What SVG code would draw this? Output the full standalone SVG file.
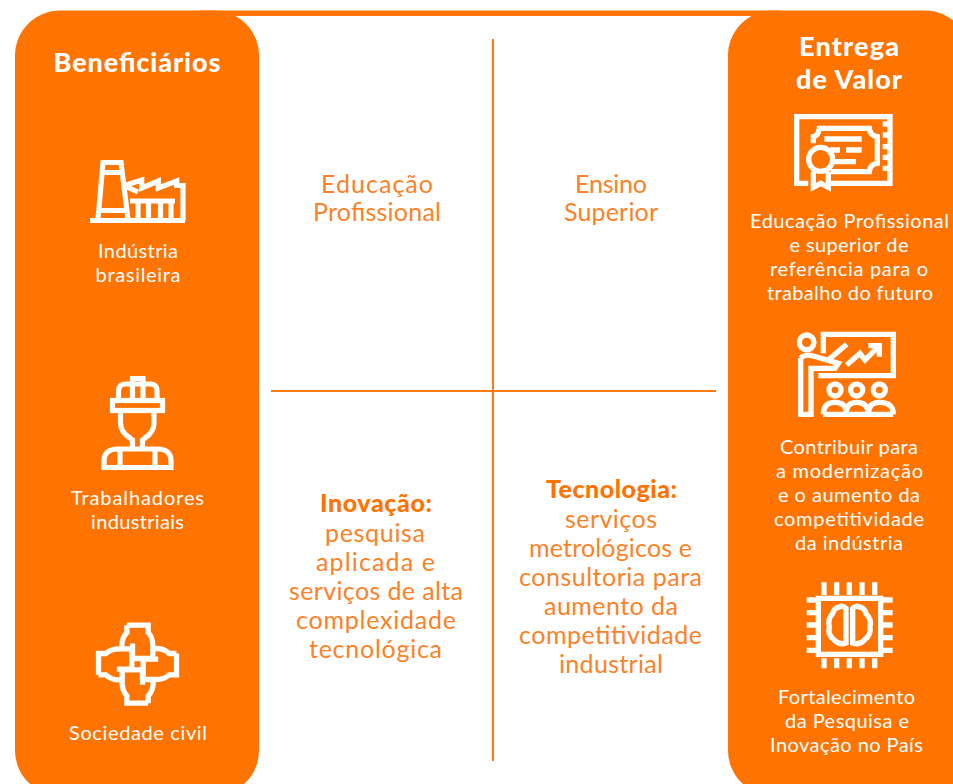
<svg xmlns="http://www.w3.org/2000/svg" width="953" height="784" viewBox="0 0 953 784">
<style>
text{font-family:"Lato","Liberation Sans",sans-serif;text-anchor:middle}
.w{fill:#fff;font-size:20px}
.h{fill:#fff;font-size:27px;font-weight:900}
.o{fill:#fb8228;font-size:25px}
.b{fill:#ff7300;font-size:25px;font-weight:900}
.i{fill:none;stroke:#fff;stroke-width:5.200;stroke-linejoin:miter}
.z{fill:none;stroke:#fff;stroke-width:16;stroke-linejoin:miter}
.l{stroke:#ff7a12;stroke-width:2;fill:none}
</style>
<defs>
<g id="pipe">
<path d="M-32,-117H32V-95Q46,-80 46,-55V-17H-15V-62M-32,-117V-95Q-47,-80 -47,-55V-46"/>
</g>
</defs>
<rect id="top-bar" x="200" y="10.500" width="580" height="5.500" fill="#ff7300"/>
<g id="connectors">
<line class="l" x1="493" y1="39" x2="493" y2="761"/>
<line class="l" x1="271" y1="391" x2="716" y2="391"/>
</g>
<g id="beneficiarios">
<rect x="15" y="10.500" width="244" height="785" rx="45" fill="#ff7300"/>
<text class="h" x="137" y="72" textLength="167">Beneficiários</text>
</g>
<g id="entrega">
<rect x="728" y="10.500" width="242" height="785" rx="45" fill="#ff7300"/>
<text class="h" x="849" y="56" textLength="100">Entrega</text>
<text class="h" x="849" y="89" textLength="106">de Valor</text>
</g>
<g id="industria">
<g class="i">
<path d="M90,220.500H185"/>
<path d="M98,219L103,162.500H121L128,219M101,172.500H123M99,210.500H127"/>
<path d="M126,185L141.700,180V188L158.300,181V188L176.700,181V185.500H183V221M127,187L138,192"/>
<path d="M130,201H175M138,200V220M148.500,200V220M160.500,200V220M171,200V220"/>
</g>
<text class="w" x="138" y="258" textLength="80">Indústria</text>
<text class="w" x="138" y="282" textLength="85">brasileira</text>
</g>
<g id="trabalhadores">
<g class="i">
<rect x="112.500" y="400.500" width="50" height="10"/>
<path d="M118.500,398V391Q118.500,384 126,384H150Q157,384 157,391V398"/>
<path d="M132.500,398V378.500H143V398"/>
<path d="M120.500,413V423Q120.500,432 130,438L132.500,440V449M154,413V423Q154,432 145,438L142.500,440V449"/>
<path d="M104,467.500V461Q104,449 118,449H157Q171,449 171,461V467.500Z"/>
<path d="M120,449V467M155,449V467"/>
</g>
<text class="w" x="137.500" y="505" textLength="133">Trabalhadores</text>
<text class="w" x="137.500" y="529" textLength="93">industriais</text>
</g>
<g id="sociedade">
<g class="z" transform="translate(137.500,664.200) scale(0.3333)">
<use href="#pipe"/>
<use href="#pipe" transform="rotate(90)"/>
<use href="#pipe" transform="rotate(180)"/>
<use href="#pipe" transform="rotate(270)"/>
</g>
<text class="w" x="138" y="740" textLength="138">Sociedade civil</text>
</g>
<g id="educacao-profissional">
<text class="o" x="377" y="193" textLength="112">Educação</text>
<text class="o" x="377" y="221" textLength="128">Profissional</text>
</g>
<g id="ensino-superior">
<text class="o" x="611" y="193" textLength="72">Ensino</text>
<text class="o" x="611" y="221" textLength="94">Superior</text>
</g>
<g id="inovacao">
<text class="b" x="376" y="512" textLength="112">Inovação:</text>
<text class="o" x="375" y="542" textLength="100">pesquisa</text>
<text class="o" x="375.500" y="571" textLength="119">aplicada e</text>
<text class="o" x="376" y="600" textLength="174">serviços de alta</text>
<text class="o" x="376" y="629" textLength="160">complexidade</text>
<text class="o" x="375.500" y="658" textLength="133">tecnológica</text>
</g>
<g id="tecnologia">
<text class="b" x="611.500" y="498" textLength="131">Tecnologia:</text>
<text class="o" x="611" y="528" textLength="92">serviços</text>
<text class="o" x="610.500" y="557" textLength="163">metrológicos e</text>
<text class="o" x="610.500" y="586" textLength="183">consultoria para</text>
<text class="o" x="611" y="615" textLength="134">aumento da</text>
<text class="o" x="610.500" y="644" textLength="183">competitividade</text>
<text class="o" x="611" y="673" textLength="104">industrial</text>
</g>
<g id="entrega-educacao">
<g class="z" transform="translate(780,100) scale(0.3333)">
<path d="M85,250H50V50H330V250H150"/>
<path d="M308,72H325M308,105H325M308,140H325M308,172H325M308,205H325"/>
<path d="M100,130V110Q115,108 118,85H268Q270,108 292,110V190Q270,192 268,215H152"/>
<path d="M133,117H245M198,150H245M150,150H180M160,185H228"/>
<circle cx="122" cy="178" r="36"/>
<path d="M100,215V262L122,250L145,262V215"/>
</g>
<text class="w" x="849.500" y="228" textLength="199">Educação Profissional</text>
<text class="w" x="849" y="252" textLength="119">e superior de</text>
<text class="w" x="849" y="276" textLength="158">referência para o</text>
<text class="w" x="850" y="300" textLength="166">trabalho do futuro</text>
</g>
<g id="entrega-contribuir">
<g class="z" transform="translate(785,325) scale(0.3333)">
<path d="M115,85V28H325V152H100"/>
<circle cx="65" cy="52" r="22"/>
<path d="M47,100V268H78V130H150L160,115L85,93Q60,85 47,100"/>
<path d="M130,105L185,58"/>
<path d="M185,120L225,85L240,105L280,65M250,62H283V95"/>
<circle cx="150" cy="195" r="18"/>
<circle cx="215" cy="195" r="18"/>
<circle cx="283" cy="195" r="18"/>
<path d="M115,268H325M115,268Q115,232 150,232Q185,232 185,268M183,268Q183,232 215,232Q250,232 250,268M250,268Q250,232 283,232Q325,232 325,268"/>
</g>
<text class="w" x="849" y="454" textLength="138">Contribuir para</text>
<text class="w" x="849.500" y="478" textLength="147">a modernização</text>
<text class="w" x="849" y="502" textLength="142">e o aumento da</text>
<text class="w" x="849" y="526" textLength="150">competitividade</text>
<text class="w" x="849" y="550" textLength="108">da indústria</text>
</g>
<g id="entrega-pesquisa">
<g class="z" transform="translate(790,575) scale(0.3333)">
<rect x="85" y="70" width="187" height="168"/>
<path d="M102,22V60M140,22V60M178,22V60M216,22V60M254,22V60M102,250V280M140,250V280M178,250V280M216,250V280M254,250V280"/>
<path d="M50,75H85M50,113H85M50,150H85M50,188H85M50,226H85M272,75H308M272,113H308M272,150H308M272,188H308M272,226H308"/>
<path d="M168,100V204Q148,212 132,194Q112,180 118,155Q112,132 128,116Q132,98 148,96Q158,90 168,100ZM188,100V204Q208,212 224,194Q244,180 240,155Q246,132 228,116Q224,98 208,96Q198,90 188,100Z"/>
</g>
<text class="w" x="846.500" y="704" textLength="137">Fortalecimento</text>
<text class="w" x="847" y="728" textLength="124">da Pesquisa e</text>
<text class="w" x="846.500" y="752" textLength="153">Inovação no País</text>
</g>
</svg>
